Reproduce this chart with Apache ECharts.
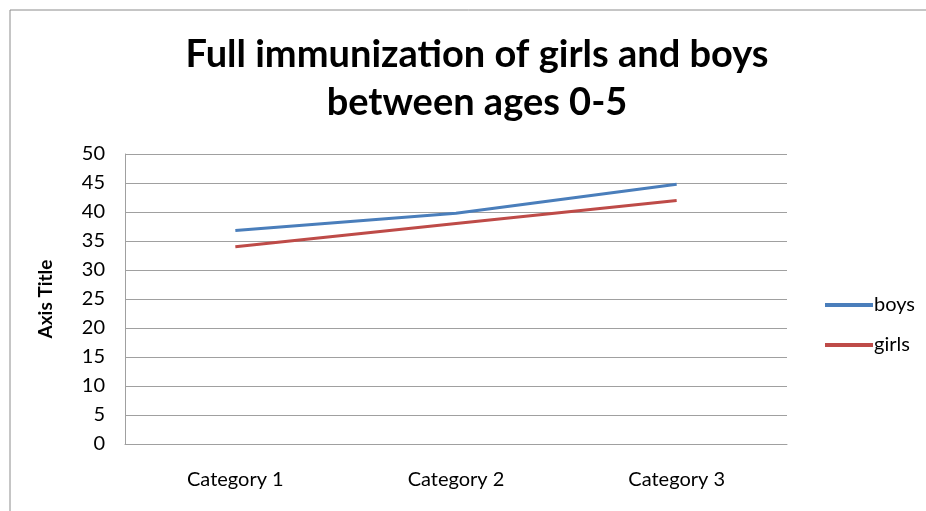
<!DOCTYPE html>
<html>
<head>
<meta charset="utf-8">
<script src="https://cdn.jsdelivr.net/npm/echarts@6/dist/echarts.min.js"></script>
<style>
  html, body { margin: 0; padding: 0; background: #fff; }
  #chart { width: 926px; height: 511px; }
</style>
</head>
<body>
<div id="chart"></div>
<script>
// data
const categories = ["Category 1", "Category 2", "Category 3"];
const boys = [36.8, 39.8, 44.8];
const girls = [34.0, 38.0, 42.0];
const yTicks = { min: 0, max: 50, interval: 5 };

const font = "Lato, 'Open Sans', sans-serif";

const chart = echarts.init(document.getElementById("chart"));
chart.setOption({
  animation: false,
  backgroundColor: "#fff",
  title: {
    text: "Full immunization of girls and boys\nbetween ages 0-5",
    left: 472,
    textAlign: "center",
    top: 26,
    textStyle: { fontFamily: font, fontSize: 38, fontWeight: "bold", color: "#000", lineHeight: 48 }
  },
  graphic: [{
    type: "rect",
    shape: { x: 10, y: 10, width: 930, height: 520 },
    style: { fill: null, stroke: "#8c8c8c", lineWidth: 1 },
    silent: true
  }],
  legend: {
    orient: "vertical",
    left: 820,
    top: 290,
    itemWidth: 48,
    itemHeight: 4,
    itemGap: 20,
    icon: "rect",
    textStyle: { fontFamily: font, fontSize: 20, color: "#000", padding: [0, 0, 0, -4] },
    data: ["boys", "girls"]
  },
  grid: { left: 125, right: 139, top: 154, bottom: 67 },
  xAxis: {
    type: "category",
    data: categories,
    boundaryGap: true,
    axisLine: { show: true, lineStyle: { color: "#a0a0a0" } },
    axisTick: { show: false },
    axisLabel: { fontFamily: font, fontSize: 20, color: "#000", margin: 26 }
  },
  yAxis: {
    type: "value",
    min: yTicks.min,
    max: yTicks.max,
    interval: yTicks.interval,
    name: "Axis Title",
    nameLocation: "middle",
    nameGap: 70,
    nameTextStyle: { fontFamily: font, fontSize: 19, fontWeight: "bold", color: "#000" },
    axisLine: { show: true, lineStyle: { color: "#a0a0a0" } },
    axisTick: { show: false },
    axisLabel: { fontFamily: font, fontSize: 20, color: "#000", margin: 20 },
    splitLine: { lineStyle: { color: "#a0a0a0" } }
  },
  series: [
    { name: "boys", type: "line", data: boys, symbol: "none",
      lineStyle: { color: "#4a7ebb", width: 3 }, itemStyle: { color: "#4a7ebb" } },
    { name: "girls", type: "line", data: girls, symbol: "none",
      lineStyle: { color: "#be4b48", width: 3 }, itemStyle: { color: "#be4b48" } }
  ]
});
</script>
</body>
</html>
